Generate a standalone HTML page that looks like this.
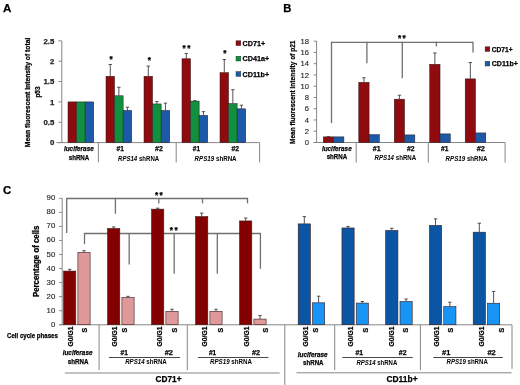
<!DOCTYPE html>
<html><head><meta charset="utf-8"><style>
html,body{margin:0;padding:0;background:#fff;}
svg{display:block;filter:blur(0.4px);font-family:"Liberation Sans",sans-serif;}
</style></head><body>
<svg width="520" height="385" viewBox="0 0 520 385">
<rect width="520" height="385" fill="#fff"/>
<text x="2.9" y="11.65" font-size="11.6" font-weight="bold" stroke="#000" stroke-width="0.25">A</text>
<line x1="61.8" y1="40.85" x2="61.8" y2="142.6" stroke="#868686" stroke-width="1"/>
<line x1="58.4" y1="142.6" x2="61.8" y2="142.6" stroke="#868686" stroke-width="1"/>
<text x="54.3" y="145.4" font-size="7.8" font-weight="bold" text-anchor="end" fill="#1e1e1e" stroke="#1e1e1e" stroke-width="0.25">0</text>
<line x1="58.4" y1="122.25" x2="61.8" y2="122.25" stroke="#868686" stroke-width="1"/>
<text x="54.3" y="125.05" font-size="7.8" font-weight="bold" text-anchor="end" fill="#1e1e1e" stroke="#1e1e1e" stroke-width="0.25">0.5</text>
<line x1="58.4" y1="101.9" x2="61.8" y2="101.9" stroke="#868686" stroke-width="1"/>
<text x="54.3" y="104.7" font-size="7.8" font-weight="bold" text-anchor="end" fill="#1e1e1e" stroke="#1e1e1e" stroke-width="0.25">1</text>
<line x1="58.4" y1="81.55" x2="61.8" y2="81.55" stroke="#868686" stroke-width="1"/>
<text x="54.3" y="84.35" font-size="7.8" font-weight="bold" text-anchor="end" fill="#1e1e1e" stroke="#1e1e1e" stroke-width="0.25">1.5</text>
<line x1="58.4" y1="61.2" x2="61.8" y2="61.2" stroke="#868686" stroke-width="1"/>
<text x="54.3" y="64" font-size="7.8" font-weight="bold" text-anchor="end" fill="#1e1e1e" stroke="#1e1e1e" stroke-width="0.25">2</text>
<line x1="58.4" y1="40.85" x2="61.8" y2="40.85" stroke="#868686" stroke-width="1"/>
<text x="54.3" y="43.65" font-size="7.8" font-weight="bold" text-anchor="end" fill="#1e1e1e" stroke="#1e1e1e" stroke-width="0.25">2.5</text>
<line x1="56.5" y1="142.6" x2="259.6" y2="142.6" stroke="#868686" stroke-width="1"/>
<line x1="98.4" y1="142.6" x2="98.4" y2="162.4" stroke="#868686" stroke-width="1"/>
<line x1="176.2" y1="142.6" x2="176.2" y2="162.4" stroke="#868686" stroke-width="1"/>
<line x1="259.6" y1="142.6" x2="259.6" y2="162.4" stroke="#868686" stroke-width="1"/>
<rect x="68" y="101.9" width="8.57" height="40.7" fill="#8f0b10" stroke="#2a1a1a" stroke-width="0.5"/>
<rect x="76.57" y="101.9" width="8.57" height="40.7" fill="#11913f" stroke="#2a1a1a" stroke-width="0.5"/>
<rect x="85.14" y="101.9" width="8.57" height="40.7" fill="#1c5aa7" stroke="#2a1a1a" stroke-width="0.5"/>
<rect x="106" y="76.26" width="8.57" height="66.34" fill="#8f0b10" stroke="#2a1a1a" stroke-width="0.5"/>
<rect x="114.57" y="95.79" width="8.57" height="46.81" fill="#11913f" stroke="#2a1a1a" stroke-width="0.5"/>
<rect x="123.14" y="110.45" width="8.57" height="32.15" fill="#1c5aa7" stroke="#2a1a1a" stroke-width="0.5"/>
<line x1="110.28" y1="76.26" x2="110.28" y2="64.46" stroke="#404040" stroke-width="0.9"/>
<line x1="108.58" y1="64.46" x2="111.98" y2="64.46" stroke="#404040" stroke-width="0.9"/>
<line x1="118.85" y1="95.79" x2="118.85" y2="87.25" stroke="#404040" stroke-width="0.9"/>
<line x1="117.15" y1="87.25" x2="120.55" y2="87.25" stroke="#404040" stroke-width="0.9"/>
<line x1="127.42" y1="110.45" x2="127.42" y2="107.19" stroke="#404040" stroke-width="0.9"/>
<line x1="125.72" y1="107.19" x2="129.12" y2="107.19" stroke="#404040" stroke-width="0.9"/>
<rect x="144" y="76.26" width="8.57" height="66.34" fill="#8f0b10" stroke="#2a1a1a" stroke-width="0.5"/>
<rect x="152.57" y="103.94" width="8.57" height="38.66" fill="#11913f" stroke="#2a1a1a" stroke-width="0.5"/>
<rect x="161.14" y="110.45" width="8.57" height="32.15" fill="#1c5aa7" stroke="#2a1a1a" stroke-width="0.5"/>
<line x1="148.28" y1="76.26" x2="148.28" y2="66.08" stroke="#404040" stroke-width="0.9"/>
<line x1="146.59" y1="66.08" x2="149.98" y2="66.08" stroke="#404040" stroke-width="0.9"/>
<line x1="156.85" y1="103.94" x2="156.85" y2="101.49" stroke="#404040" stroke-width="0.9"/>
<line x1="155.16" y1="101.49" x2="158.55" y2="101.49" stroke="#404040" stroke-width="0.9"/>
<line x1="165.42" y1="110.45" x2="165.42" y2="103.12" stroke="#404040" stroke-width="0.9"/>
<line x1="163.72" y1="103.12" x2="167.12" y2="103.12" stroke="#404040" stroke-width="0.9"/>
<rect x="182" y="58.76" width="8.57" height="83.84" fill="#8f0b10" stroke="#2a1a1a" stroke-width="0.5"/>
<rect x="190.57" y="101.09" width="8.57" height="41.51" fill="#11913f" stroke="#2a1a1a" stroke-width="0.5"/>
<rect x="199.14" y="115.33" width="8.57" height="27.27" fill="#1c5aa7" stroke="#2a1a1a" stroke-width="0.5"/>
<line x1="186.28" y1="58.76" x2="186.28" y2="53.47" stroke="#404040" stroke-width="0.9"/>
<line x1="184.59" y1="53.47" x2="187.98" y2="53.47" stroke="#404040" stroke-width="0.9"/>
<line x1="194.85" y1="101.09" x2="194.85" y2="100.68" stroke="#404040" stroke-width="0.9"/>
<line x1="193.16" y1="100.68" x2="196.55" y2="100.68" stroke="#404040" stroke-width="0.9"/>
<line x1="203.42" y1="115.33" x2="203.42" y2="111.67" stroke="#404040" stroke-width="0.9"/>
<line x1="201.72" y1="111.67" x2="205.12" y2="111.67" stroke="#404040" stroke-width="0.9"/>
<rect x="220" y="72.6" width="8.57" height="70" fill="#8f0b10" stroke="#2a1a1a" stroke-width="0.5"/>
<rect x="228.57" y="103.53" width="8.57" height="39.07" fill="#11913f" stroke="#2a1a1a" stroke-width="0.5"/>
<rect x="237.14" y="108.82" width="8.57" height="33.78" fill="#1c5aa7" stroke="#2a1a1a" stroke-width="0.5"/>
<line x1="224.28" y1="72.6" x2="224.28" y2="59.57" stroke="#404040" stroke-width="0.9"/>
<line x1="222.59" y1="59.57" x2="225.98" y2="59.57" stroke="#404040" stroke-width="0.9"/>
<line x1="232.85" y1="103.53" x2="232.85" y2="89.69" stroke="#404040" stroke-width="0.9"/>
<line x1="231.16" y1="89.69" x2="234.55" y2="89.69" stroke="#404040" stroke-width="0.9"/>
<line x1="241.42" y1="108.82" x2="241.42" y2="105.16" stroke="#404040" stroke-width="0.9"/>
<line x1="239.72" y1="105.16" x2="243.12" y2="105.16" stroke="#404040" stroke-width="0.9"/>
<text x="111" y="61.5" font-size="8.2" font-weight="bold" text-anchor="middle" stroke="#000" stroke-width="0.25">*</text>
<text x="149.3" y="63" font-size="8.2" font-weight="bold" text-anchor="middle" stroke="#000" stroke-width="0.25">*</text>
<text x="184.2" y="51.2" font-size="8.2" font-weight="bold" text-anchor="middle" stroke="#000" stroke-width="0.25">*</text>
<text x="188.8" y="51.2" font-size="8.2" font-weight="bold" text-anchor="middle" stroke="#000" stroke-width="0.25">*</text>
<text x="224.9" y="55.5" font-size="8.2" font-weight="bold" text-anchor="middle" stroke="#000" stroke-width="0.25">*</text>
<rect x="236" y="40.8" width="4.8" height="4.8" fill="#8f0b10" stroke="#222" stroke-width="0.4"/>
<text x="242.6" y="46" font-size="7.6" font-weight="bold" textLength="22.5" lengthAdjust="spacingAndGlyphs" stroke="#000" stroke-width="0.25">CD71+</text>
<rect x="236" y="56.2" width="4.8" height="4.8" fill="#11913f" stroke="#222" stroke-width="0.4"/>
<text x="242.6" y="61.4" font-size="7.6" font-weight="bold" textLength="26.7" lengthAdjust="spacingAndGlyphs" stroke="#000" stroke-width="0.25">CD41a+</text>
<rect x="236" y="71.6" width="4.8" height="4.8" fill="#1c5aa7" stroke="#222" stroke-width="0.4"/>
<text x="242.6" y="76.8" font-size="7.6" font-weight="bold" textLength="26.5" lengthAdjust="spacingAndGlyphs" stroke="#000" stroke-width="0.25">CD11b+</text>
<text x="63.9" y="150.6" font-size="7.4" font-weight="bold" font-style="italic" textLength="29.9" lengthAdjust="spacingAndGlyphs" stroke="#000" stroke-width="0.25">luciferase</text>
<text x="68.8" y="159.8" font-size="7.4" font-weight="bold" textLength="20.4" lengthAdjust="spacingAndGlyphs" stroke="#000" stroke-width="0.25">shRNA</text>
<text x="116.5" y="151" font-size="7.4" font-weight="bold" textLength="7.4" lengthAdjust="spacingAndGlyphs" stroke="#000" stroke-width="0.25">#1</text>
<text x="155" y="151" font-size="7.4" font-weight="bold" textLength="7.8" lengthAdjust="spacingAndGlyphs" stroke="#000" stroke-width="0.25">#2</text>
<text x="118" y="160.8" font-size="7.4" font-weight="bold" textLength="41.2" lengthAdjust="spacingAndGlyphs"><tspan font-style="italic">RPS14</tspan> shRNA</text>
<text x="192.8" y="151" font-size="7.4" font-weight="bold" textLength="7.2" lengthAdjust="spacingAndGlyphs" stroke="#000" stroke-width="0.25">#1</text>
<text x="231.5" y="151" font-size="7.4" font-weight="bold" textLength="7.7" lengthAdjust="spacingAndGlyphs" stroke="#000" stroke-width="0.25">#2</text>
<text x="194.6" y="160.8" font-size="7.4" font-weight="bold" textLength="42" lengthAdjust="spacingAndGlyphs"><tspan font-style="italic">RPS19</tspan> shRNA</text>
<text x="30.5" y="92.45" font-size="7.6" font-weight="bold" text-anchor="middle" textLength="109.5" lengthAdjust="spacingAndGlyphs" transform="rotate(-90 30.5 92.45)" stroke="#000" stroke-width="0.25">Mean fluorescent intensity of total</text>
<text x="39.5" y="92" font-size="6.3" font-weight="bold" text-anchor="middle" textLength="11.2" lengthAdjust="spacingAndGlyphs" transform="rotate(-90 39.5 92)" stroke="#000" stroke-width="0.25">p53</text>
<text x="283.2" y="12.3" font-size="11.2" font-weight="bold" stroke="#000" stroke-width="0.25">B</text>
<line x1="316.6" y1="41.16" x2="316.6" y2="142.5" stroke="#868686" stroke-width="1"/>
<line x1="313.6" y1="142.5" x2="316.6" y2="142.5" stroke="#868686" stroke-width="1"/>
<text x="309" y="145.2" font-size="7.6" font-weight="normal" text-anchor="end" fill="#2a2a2a" stroke="#2a2a2a" stroke-width="0.15">0</text>
<line x1="313.6" y1="131.24" x2="316.6" y2="131.24" stroke="#868686" stroke-width="1"/>
<text x="309" y="133.94" font-size="7.6" font-weight="normal" text-anchor="end" fill="#2a2a2a" stroke="#2a2a2a" stroke-width="0.15">2</text>
<line x1="313.6" y1="119.98" x2="316.6" y2="119.98" stroke="#868686" stroke-width="1"/>
<text x="309" y="122.68" font-size="7.6" font-weight="normal" text-anchor="end" fill="#2a2a2a" stroke="#2a2a2a" stroke-width="0.15">4</text>
<line x1="313.6" y1="108.72" x2="316.6" y2="108.72" stroke="#868686" stroke-width="1"/>
<text x="309" y="111.42" font-size="7.6" font-weight="normal" text-anchor="end" fill="#2a2a2a" stroke="#2a2a2a" stroke-width="0.15">6</text>
<line x1="313.6" y1="97.46" x2="316.6" y2="97.46" stroke="#868686" stroke-width="1"/>
<text x="309" y="100.16" font-size="7.6" font-weight="normal" text-anchor="end" fill="#2a2a2a" stroke="#2a2a2a" stroke-width="0.15">8</text>
<line x1="313.6" y1="86.2" x2="316.6" y2="86.2" stroke="#868686" stroke-width="1"/>
<text x="309" y="88.9" font-size="7.6" font-weight="normal" text-anchor="end" fill="#2a2a2a" stroke="#2a2a2a" stroke-width="0.15">10</text>
<line x1="313.6" y1="74.94" x2="316.6" y2="74.94" stroke="#868686" stroke-width="1"/>
<text x="309" y="77.64" font-size="7.6" font-weight="normal" text-anchor="end" fill="#2a2a2a" stroke="#2a2a2a" stroke-width="0.15">12</text>
<line x1="313.6" y1="63.68" x2="316.6" y2="63.68" stroke="#868686" stroke-width="1"/>
<text x="309" y="66.38" font-size="7.6" font-weight="normal" text-anchor="end" fill="#2a2a2a" stroke="#2a2a2a" stroke-width="0.15">14</text>
<line x1="313.6" y1="52.42" x2="316.6" y2="52.42" stroke="#868686" stroke-width="1"/>
<text x="309" y="55.12" font-size="7.6" font-weight="normal" text-anchor="end" fill="#2a2a2a" stroke="#2a2a2a" stroke-width="0.15">16</text>
<line x1="313.6" y1="41.16" x2="316.6" y2="41.16" stroke="#868686" stroke-width="1"/>
<text x="309" y="43.86" font-size="7.6" font-weight="normal" text-anchor="end" fill="#2a2a2a" stroke="#2a2a2a" stroke-width="0.15">18</text>
<line x1="313.6" y1="142.5" x2="505.1" y2="142.5" stroke="#868686" stroke-width="1"/>
<line x1="356.2" y1="142.5" x2="356.2" y2="162.6" stroke="#868686" stroke-width="1"/>
<line x1="428.3" y1="142.5" x2="428.3" y2="162.6" stroke="#868686" stroke-width="1"/>
<line x1="505.1" y1="142.5" x2="505.1" y2="162.6" stroke="#868686" stroke-width="1"/>
<line x1="331.5" y1="42.3" x2="473" y2="42.3" stroke="#707070" stroke-width="1.3"/>
<line x1="331.5" y1="41.7" x2="331.5" y2="123.2" stroke="#707070" stroke-width="1.3"/>
<line x1="366.9" y1="41.7" x2="366.9" y2="63.2" stroke="#707070" stroke-width="1.3"/>
<line x1="402.3" y1="41.7" x2="402.3" y2="78.2" stroke="#707070" stroke-width="1.3"/>
<line x1="436.4" y1="41.7" x2="436.4" y2="46.4" stroke="#707070" stroke-width="1.3"/>
<line x1="473" y1="41.7" x2="473" y2="52.5" stroke="#707070" stroke-width="1.3"/>
<rect x="323.3" y="136.87" width="10.3" height="5.63" fill="#8f0b10" stroke="#2a1a1a" stroke-width="0.5"/>
<rect x="333.6" y="136.87" width="10.3" height="5.63" fill="#1c5aa7" stroke="#2a1a1a" stroke-width="0.5"/>
<line x1="328.45" y1="136.87" x2="328.45" y2="136.59" stroke="#404040" stroke-width="0.9"/>
<line x1="326.75" y1="136.59" x2="330.15" y2="136.59" stroke="#404040" stroke-width="0.9"/>
<rect x="358.78" y="82.26" width="10.3" height="60.24" fill="#8f0b10" stroke="#2a1a1a" stroke-width="0.5"/>
<rect x="369.08" y="134.62" width="10.3" height="7.88" fill="#1c5aa7" stroke="#2a1a1a" stroke-width="0.5"/>
<line x1="363.93" y1="82.26" x2="363.93" y2="77.75" stroke="#404040" stroke-width="0.9"/>
<line x1="362.23" y1="77.75" x2="365.62" y2="77.75" stroke="#404040" stroke-width="0.9"/>
<rect x="394.25" y="99.15" width="10.3" height="43.35" fill="#8f0b10" stroke="#2a1a1a" stroke-width="0.5"/>
<rect x="404.55" y="134.9" width="10.3" height="7.6" fill="#1c5aa7" stroke="#2a1a1a" stroke-width="0.5"/>
<line x1="399.4" y1="99.15" x2="399.4" y2="95.21" stroke="#404040" stroke-width="0.9"/>
<line x1="397.7" y1="95.21" x2="401.1" y2="95.21" stroke="#404040" stroke-width="0.9"/>
<rect x="429.73" y="64.24" width="10.3" height="78.26" fill="#8f0b10" stroke="#2a1a1a" stroke-width="0.5"/>
<rect x="440.03" y="133.89" width="10.3" height="8.61" fill="#1c5aa7" stroke="#2a1a1a" stroke-width="0.5"/>
<line x1="434.88" y1="64.24" x2="434.88" y2="52.98" stroke="#404040" stroke-width="0.9"/>
<line x1="433.18" y1="52.98" x2="436.57" y2="52.98" stroke="#404040" stroke-width="0.9"/>
<rect x="465.2" y="78.88" width="10.3" height="63.62" fill="#8f0b10" stroke="#2a1a1a" stroke-width="0.5"/>
<rect x="475.5" y="132.93" width="10.3" height="9.57" fill="#1c5aa7" stroke="#2a1a1a" stroke-width="0.5"/>
<line x1="470.35" y1="78.88" x2="470.35" y2="62.55" stroke="#404040" stroke-width="0.9"/>
<line x1="468.65" y1="62.55" x2="472.05" y2="62.55" stroke="#404040" stroke-width="0.9"/>
<text x="399.6" y="40.5" font-size="8.2" font-weight="bold" text-anchor="middle" stroke="#000" stroke-width="0.25">*</text>
<text x="404.2" y="40.5" font-size="8.2" font-weight="bold" text-anchor="middle" stroke="#000" stroke-width="0.25">*</text>
<rect x="485.1" y="46.8" width="4.7" height="4.7" fill="#8f0b10" stroke="#222" stroke-width="0.4"/>
<text x="491.8" y="51.8" font-size="7.2" font-weight="bold" textLength="20.8" lengthAdjust="spacingAndGlyphs" stroke="#000" stroke-width="0.25">CD71+</text>
<rect x="485.1" y="61.3" width="4.7" height="4.7" fill="#1c5aa7" stroke="#222" stroke-width="0.4"/>
<text x="491.8" y="66.3" font-size="7.2" font-weight="bold" textLength="26" lengthAdjust="spacingAndGlyphs" stroke="#000" stroke-width="0.25">CD11b+</text>
<text x="321.9" y="150.8" font-size="7.4" font-weight="bold" font-style="italic" textLength="29.8" lengthAdjust="spacingAndGlyphs" stroke="#000" stroke-width="0.25">luciferase</text>
<text x="326.7" y="159.4" font-size="7.4" font-weight="bold" textLength="20.4" lengthAdjust="spacingAndGlyphs" stroke="#000" stroke-width="0.25">shRNA</text>
<text x="372.8" y="151.2" font-size="7.4" font-weight="bold" textLength="7.8" lengthAdjust="spacingAndGlyphs" stroke="#000" stroke-width="0.25">#1</text>
<text x="407" y="151.2" font-size="7.4" font-weight="bold" textLength="7.6" lengthAdjust="spacingAndGlyphs" stroke="#000" stroke-width="0.25">#2</text>
<text x="374.6" y="160.4" font-size="7.4" font-weight="bold" textLength="41.6" lengthAdjust="spacingAndGlyphs"><tspan font-style="italic">RPS14</tspan> shRNA</text>
<text x="441.1" y="151.2" font-size="7.4" font-weight="bold" textLength="7.4" lengthAdjust="spacingAndGlyphs" stroke="#000" stroke-width="0.25">#1</text>
<text x="476.7" y="151.2" font-size="7.4" font-weight="bold" textLength="8.2" lengthAdjust="spacingAndGlyphs" stroke="#000" stroke-width="0.25">#2</text>
<text x="445.6" y="160.5" font-size="7.4" font-weight="bold" textLength="41.9" lengthAdjust="spacingAndGlyphs"><tspan font-style="italic">RPS19</tspan> shRNA</text>
<text x="295.1" y="92.25" font-size="7.6" font-weight="bold" text-anchor="middle" textLength="103.5" lengthAdjust="spacingAndGlyphs" transform="rotate(-90 295.1 92.25)" stroke="#000" stroke-width="0.25">Mean fluorescent intensity of p21</text>
<text x="3" y="193.65" font-size="11.4" font-weight="bold" stroke="#000" stroke-width="0.25">C</text>
<line x1="62.2" y1="198.34" x2="62.2" y2="324.7" stroke="#868686" stroke-width="1"/>
<line x1="59.2" y1="324.7" x2="62.2" y2="324.7" stroke="#868686" stroke-width="1"/>
<text x="55.3" y="326.7" font-size="7.8" font-weight="normal" text-anchor="end" fill="#2a2a2a" stroke="#2a2a2a" stroke-width="0.15">0</text>
<line x1="59.2" y1="310.66" x2="62.2" y2="310.66" stroke="#868686" stroke-width="1"/>
<text x="55.3" y="312.66" font-size="7.8" font-weight="normal" text-anchor="end" fill="#2a2a2a" stroke="#2a2a2a" stroke-width="0.15">10</text>
<line x1="59.2" y1="296.62" x2="62.2" y2="296.62" stroke="#868686" stroke-width="1"/>
<text x="55.3" y="298.62" font-size="7.8" font-weight="normal" text-anchor="end" fill="#2a2a2a" stroke="#2a2a2a" stroke-width="0.15">20</text>
<line x1="59.2" y1="282.58" x2="62.2" y2="282.58" stroke="#868686" stroke-width="1"/>
<text x="55.3" y="284.58" font-size="7.8" font-weight="normal" text-anchor="end" fill="#2a2a2a" stroke="#2a2a2a" stroke-width="0.15">30</text>
<line x1="59.2" y1="268.54" x2="62.2" y2="268.54" stroke="#868686" stroke-width="1"/>
<text x="55.3" y="270.54" font-size="7.8" font-weight="normal" text-anchor="end" fill="#2a2a2a" stroke="#2a2a2a" stroke-width="0.15">40</text>
<line x1="59.2" y1="254.5" x2="62.2" y2="254.5" stroke="#868686" stroke-width="1"/>
<text x="55.3" y="256.5" font-size="7.8" font-weight="normal" text-anchor="end" fill="#2a2a2a" stroke="#2a2a2a" stroke-width="0.15">50</text>
<line x1="59.2" y1="240.46" x2="62.2" y2="240.46" stroke="#868686" stroke-width="1"/>
<text x="55.3" y="242.46" font-size="7.8" font-weight="normal" text-anchor="end" fill="#2a2a2a" stroke="#2a2a2a" stroke-width="0.15">60</text>
<line x1="59.2" y1="226.42" x2="62.2" y2="226.42" stroke="#868686" stroke-width="1"/>
<text x="55.3" y="228.42" font-size="7.8" font-weight="normal" text-anchor="end" fill="#2a2a2a" stroke="#2a2a2a" stroke-width="0.15">70</text>
<line x1="59.2" y1="212.38" x2="62.2" y2="212.38" stroke="#868686" stroke-width="1"/>
<text x="55.3" y="214.38" font-size="7.8" font-weight="normal" text-anchor="end" fill="#2a2a2a" stroke="#2a2a2a" stroke-width="0.15">80</text>
<line x1="59.2" y1="198.34" x2="62.2" y2="198.34" stroke="#868686" stroke-width="1"/>
<text x="55.3" y="200.34" font-size="7.8" font-weight="normal" text-anchor="end" fill="#2a2a2a" stroke="#2a2a2a" stroke-width="0.15">90</text>
<line x1="59.2" y1="324.8" x2="512" y2="324.8" stroke="#868686" stroke-width="1"/>
<line x1="284.8" y1="324.8" x2="284.8" y2="385" stroke="#868686" stroke-width="1"/>
<line x1="99.1" y1="324.8" x2="99.1" y2="370.2" stroke="#868686" stroke-width="1"/>
<line x1="187.3" y1="324.8" x2="187.3" y2="370.2" stroke="#868686" stroke-width="1"/>
<line x1="334.7" y1="324.8" x2="334.7" y2="370.2" stroke="#868686" stroke-width="1"/>
<line x1="420.4" y1="324.8" x2="420.4" y2="370.2" stroke="#868686" stroke-width="1"/>
<line x1="512" y1="324.8" x2="512" y2="368.8" stroke="#868686" stroke-width="1"/>
<line x1="64.9" y1="373" x2="279.7" y2="373" stroke="#868686" stroke-width="1"/>
<line x1="296.5" y1="372.8" x2="511.6" y2="372.8" stroke="#868686" stroke-width="1"/>
<line x1="109" y1="357.5" x2="180.1" y2="357.5" stroke="#333" stroke-width="0.9"/>
<line x1="198" y1="357.5" x2="268.4" y2="357.5" stroke="#333" stroke-width="0.9"/>
<line x1="342.3" y1="357.5" x2="412.7" y2="357.5" stroke="#333" stroke-width="0.9"/>
<line x1="433.3" y1="357.5" x2="502.8" y2="357.5" stroke="#333" stroke-width="0.9"/>
<line x1="66.7" y1="198.5" x2="247.5" y2="198.5" stroke="#707070" stroke-width="1.3"/>
<line x1="66.7" y1="197.9" x2="66.7" y2="233" stroke="#707070" stroke-width="1.3"/>
<line x1="115.4" y1="197.9" x2="115.4" y2="213.8" stroke="#707070" stroke-width="1.3"/>
<line x1="158.8" y1="197.9" x2="158.8" y2="203.5" stroke="#707070" stroke-width="1.3"/>
<line x1="202.5" y1="197.9" x2="202.5" y2="203.3" stroke="#707070" stroke-width="1.3"/>
<line x1="247.5" y1="197.9" x2="247.5" y2="203.3" stroke="#707070" stroke-width="1.3"/>
<line x1="84.5" y1="233.5" x2="260.4" y2="233.5" stroke="#707070" stroke-width="1.3"/>
<line x1="84.5" y1="232.9" x2="84.5" y2="244.2" stroke="#707070" stroke-width="1.3"/>
<line x1="129.2" y1="232.9" x2="129.2" y2="264.5" stroke="#707070" stroke-width="1.3"/>
<line x1="174.2" y1="232.9" x2="174.2" y2="273.7" stroke="#707070" stroke-width="1.3"/>
<line x1="217.3" y1="232.9" x2="217.3" y2="273.7" stroke="#707070" stroke-width="1.3"/>
<line x1="260.4" y1="232.9" x2="260.4" y2="268.8" stroke="#707070" stroke-width="1.3"/>
<text x="156.5" y="198.2" font-size="8.2" font-weight="bold" text-anchor="middle" stroke="#000" stroke-width="0.25">*</text>
<text x="161.1" y="198.2" font-size="8.2" font-weight="bold" text-anchor="middle" stroke="#000" stroke-width="0.25">*</text>
<text x="171.4" y="233.4" font-size="8.2" font-weight="bold" text-anchor="middle" stroke="#000" stroke-width="0.25">*</text>
<text x="176" y="233.4" font-size="8.2" font-weight="bold" text-anchor="middle" stroke="#000" stroke-width="0.25">*</text>
<rect x="63.6" y="271.07" width="12.2" height="53.63" fill="#820000" stroke="#3a1a1a" stroke-width="0.6"/>
<rect x="77.9" y="252.39" width="12.2" height="72.31" fill="#e0999b" stroke="#3a1a1a" stroke-width="0.6"/>
<line x1="69.7" y1="271.07" x2="69.7" y2="269.38" stroke="#404040" stroke-width="0.9"/>
<line x1="68" y1="269.38" x2="71.4" y2="269.38" stroke="#404040" stroke-width="0.9"/>
<line x1="84" y1="252.39" x2="84" y2="250.71" stroke="#404040" stroke-width="0.9"/>
<line x1="82.3" y1="250.71" x2="85.7" y2="250.71" stroke="#404040" stroke-width="0.9"/>
<text x="73.15" y="326.6" font-size="7.0" font-weight="bold" text-anchor="end" textLength="19.8" lengthAdjust="spacingAndGlyphs" transform="rotate(-90 73.15 326.6)" stroke="#000" stroke-width="0.25">G0/G1</text>
<text x="87.15" y="327.8" font-size="7.0" font-weight="bold" text-anchor="end" transform="rotate(-90 87.15 327.8)" stroke="#000" stroke-width="0.25">S</text>
<rect x="298.2" y="223.89" width="12.2" height="100.81" fill="#0a56a4" stroke="#3a1a1a" stroke-width="0.6"/>
<rect x="312.5" y="302.8" width="12.2" height="21.9" fill="#1894f5" stroke="#3a1a1a" stroke-width="0.6"/>
<line x1="304.3" y1="223.89" x2="304.3" y2="216.59" stroke="#404040" stroke-width="0.9"/>
<line x1="302.6" y1="216.59" x2="306" y2="216.59" stroke="#404040" stroke-width="0.9"/>
<line x1="318.6" y1="302.8" x2="318.6" y2="296.2" stroke="#404040" stroke-width="0.9"/>
<line x1="316.9" y1="296.2" x2="320.3" y2="296.2" stroke="#404040" stroke-width="0.9"/>
<text x="308.1" y="326.6" font-size="7.0" font-weight="bold" text-anchor="end" textLength="19.8" lengthAdjust="spacingAndGlyphs" transform="rotate(-90 308.1 326.6)" stroke="#000" stroke-width="0.25">G0/G1</text>
<text x="317.9" y="327.8" font-size="7.0" font-weight="bold" text-anchor="end" transform="rotate(-90 317.9 327.8)" stroke="#000" stroke-width="0.25">S</text>
<rect x="107.6" y="228.53" width="12.2" height="96.17" fill="#820000" stroke="#3a1a1a" stroke-width="0.6"/>
<rect x="121.9" y="297.46" width="12.2" height="27.24" fill="#e0999b" stroke="#3a1a1a" stroke-width="0.6"/>
<line x1="113.7" y1="228.53" x2="113.7" y2="226.98" stroke="#404040" stroke-width="0.9"/>
<line x1="112" y1="226.98" x2="115.4" y2="226.98" stroke="#404040" stroke-width="0.9"/>
<line x1="128" y1="297.46" x2="128" y2="296.34" stroke="#404040" stroke-width="0.9"/>
<line x1="126.3" y1="296.34" x2="129.7" y2="296.34" stroke="#404040" stroke-width="0.9"/>
<text x="117.5" y="326.6" font-size="7.0" font-weight="bold" text-anchor="end" textLength="19.8" lengthAdjust="spacingAndGlyphs" transform="rotate(-90 117.5 326.6)" stroke="#000" stroke-width="0.25">G0/G1</text>
<text x="127.1" y="327.8" font-size="7.0" font-weight="bold" text-anchor="end" transform="rotate(-90 127.1 327.8)" stroke="#000" stroke-width="0.25">S</text>
<rect x="341.95" y="227.96" width="12.2" height="96.74" fill="#0a56a4" stroke="#3a1a1a" stroke-width="0.6"/>
<rect x="356.25" y="303.08" width="12.2" height="21.62" fill="#1894f5" stroke="#3a1a1a" stroke-width="0.6"/>
<line x1="348.05" y1="227.96" x2="348.05" y2="226.42" stroke="#404040" stroke-width="0.9"/>
<line x1="346.35" y1="226.42" x2="349.75" y2="226.42" stroke="#404040" stroke-width="0.9"/>
<line x1="362.35" y1="303.08" x2="362.35" y2="301.53" stroke="#404040" stroke-width="0.9"/>
<line x1="360.65" y1="301.53" x2="364.05" y2="301.53" stroke="#404040" stroke-width="0.9"/>
<text x="353.1" y="326.6" font-size="7.0" font-weight="bold" text-anchor="end" textLength="19.8" lengthAdjust="spacingAndGlyphs" transform="rotate(-90 353.1 326.6)" stroke="#000" stroke-width="0.25">G0/G1</text>
<text x="368" y="327.8" font-size="7.0" font-weight="bold" text-anchor="end" transform="rotate(-90 368 327.8)" stroke="#000" stroke-width="0.25">S</text>
<rect x="151.6" y="209.15" width="12.2" height="115.55" fill="#820000" stroke="#3a1a1a" stroke-width="0.6"/>
<rect x="165.9" y="311.36" width="12.2" height="13.34" fill="#e0999b" stroke="#3a1a1a" stroke-width="0.6"/>
<line x1="157.7" y1="209.15" x2="157.7" y2="208.17" stroke="#404040" stroke-width="0.9"/>
<line x1="156" y1="208.17" x2="159.4" y2="208.17" stroke="#404040" stroke-width="0.9"/>
<line x1="172" y1="311.36" x2="172" y2="309.26" stroke="#404040" stroke-width="0.9"/>
<line x1="170.3" y1="309.26" x2="173.7" y2="309.26" stroke="#404040" stroke-width="0.9"/>
<text x="162.15" y="326.6" font-size="7.0" font-weight="bold" text-anchor="end" textLength="19.8" lengthAdjust="spacingAndGlyphs" transform="rotate(-90 162.15 326.6)" stroke="#000" stroke-width="0.25">G0/G1</text>
<text x="176.9" y="327.8" font-size="7.0" font-weight="bold" text-anchor="end" transform="rotate(-90 176.9 327.8)" stroke="#000" stroke-width="0.25">S</text>
<rect x="385.7" y="230.49" width="12.2" height="94.21" fill="#0a56a4" stroke="#3a1a1a" stroke-width="0.6"/>
<rect x="400" y="301.53" width="12.2" height="23.17" fill="#1894f5" stroke="#3a1a1a" stroke-width="0.6"/>
<line x1="391.8" y1="230.49" x2="391.8" y2="228.25" stroke="#404040" stroke-width="0.9"/>
<line x1="390.1" y1="228.25" x2="393.5" y2="228.25" stroke="#404040" stroke-width="0.9"/>
<line x1="406.1" y1="301.53" x2="406.1" y2="299.01" stroke="#404040" stroke-width="0.9"/>
<line x1="404.4" y1="299.01" x2="407.8" y2="299.01" stroke="#404040" stroke-width="0.9"/>
<text x="393.55" y="326.6" font-size="7.0" font-weight="bold" text-anchor="end" textLength="19.8" lengthAdjust="spacingAndGlyphs" transform="rotate(-90 393.55 326.6)" stroke="#000" stroke-width="0.25">G0/G1</text>
<text x="408.25" y="327.8" font-size="7.0" font-weight="bold" text-anchor="end" transform="rotate(-90 408.25 327.8)" stroke="#000" stroke-width="0.25">S</text>
<rect x="195.6" y="216.59" width="12.2" height="108.11" fill="#820000" stroke="#3a1a1a" stroke-width="0.6"/>
<rect x="209.9" y="311.36" width="12.2" height="13.34" fill="#e0999b" stroke="#3a1a1a" stroke-width="0.6"/>
<line x1="201.7" y1="216.59" x2="201.7" y2="213.08" stroke="#404040" stroke-width="0.9"/>
<line x1="200" y1="213.08" x2="203.4" y2="213.08" stroke="#404040" stroke-width="0.9"/>
<line x1="216" y1="311.36" x2="216" y2="309.26" stroke="#404040" stroke-width="0.9"/>
<line x1="214.3" y1="309.26" x2="217.7" y2="309.26" stroke="#404040" stroke-width="0.9"/>
<text x="207.35" y="326.6" font-size="7.0" font-weight="bold" text-anchor="end" textLength="19.8" lengthAdjust="spacingAndGlyphs" transform="rotate(-90 207.35 326.6)" stroke="#000" stroke-width="0.25">G0/G1</text>
<text x="223.1" y="327.8" font-size="7.0" font-weight="bold" text-anchor="end" transform="rotate(-90 223.1 327.8)" stroke="#000" stroke-width="0.25">S</text>
<rect x="429.45" y="225.44" width="12.2" height="99.26" fill="#0a56a4" stroke="#3a1a1a" stroke-width="0.6"/>
<rect x="443.75" y="306.59" width="12.2" height="18.11" fill="#1894f5" stroke="#3a1a1a" stroke-width="0.6"/>
<line x1="435.55" y1="225.44" x2="435.55" y2="218.84" stroke="#404040" stroke-width="0.9"/>
<line x1="433.85" y1="218.84" x2="437.25" y2="218.84" stroke="#404040" stroke-width="0.9"/>
<line x1="449.85" y1="306.59" x2="449.85" y2="302.24" stroke="#404040" stroke-width="0.9"/>
<line x1="448.15" y1="302.24" x2="451.55" y2="302.24" stroke="#404040" stroke-width="0.9"/>
<text x="438.6" y="326.6" font-size="7.0" font-weight="bold" text-anchor="end" textLength="19.8" lengthAdjust="spacingAndGlyphs" transform="rotate(-90 438.6 326.6)" stroke="#000" stroke-width="0.25">G0/G1</text>
<text x="453.5" y="327.8" font-size="7.0" font-weight="bold" text-anchor="end" transform="rotate(-90 453.5 327.8)" stroke="#000" stroke-width="0.25">S</text>
<rect x="239.6" y="220.94" width="12.2" height="103.76" fill="#820000" stroke="#3a1a1a" stroke-width="0.6"/>
<rect x="253.9" y="319.08" width="12.2" height="5.62" fill="#e0999b" stroke="#3a1a1a" stroke-width="0.6"/>
<line x1="245.7" y1="220.94" x2="245.7" y2="218" stroke="#404040" stroke-width="0.9"/>
<line x1="244" y1="218" x2="247.4" y2="218" stroke="#404040" stroke-width="0.9"/>
<line x1="260" y1="319.08" x2="260" y2="315.57" stroke="#404040" stroke-width="0.9"/>
<line x1="258.3" y1="315.57" x2="261.7" y2="315.57" stroke="#404040" stroke-width="0.9"/>
<text x="249.05" y="326.6" font-size="7.0" font-weight="bold" text-anchor="end" textLength="19.8" lengthAdjust="spacingAndGlyphs" transform="rotate(-90 249.05 326.6)" stroke="#000" stroke-width="0.25">G0/G1</text>
<text x="267.95" y="327.8" font-size="7.0" font-weight="bold" text-anchor="end" transform="rotate(-90 267.95 327.8)" stroke="#000" stroke-width="0.25">S</text>
<rect x="473.2" y="232.18" width="12.2" height="92.52" fill="#0a56a4" stroke="#3a1a1a" stroke-width="0.6"/>
<rect x="487.5" y="303.22" width="12.2" height="21.48" fill="#1894f5" stroke="#3a1a1a" stroke-width="0.6"/>
<line x1="479.3" y1="232.18" x2="479.3" y2="223.19" stroke="#404040" stroke-width="0.9"/>
<line x1="477.6" y1="223.19" x2="481" y2="223.19" stroke="#404040" stroke-width="0.9"/>
<line x1="493.6" y1="303.22" x2="493.6" y2="291.43" stroke="#404040" stroke-width="0.9"/>
<line x1="491.9" y1="291.43" x2="495.3" y2="291.43" stroke="#404040" stroke-width="0.9"/>
<text x="483.7" y="326.6" font-size="7.0" font-weight="bold" text-anchor="end" textLength="19.8" lengthAdjust="spacingAndGlyphs" transform="rotate(-90 483.7 326.6)" stroke="#000" stroke-width="0.25">G0/G1</text>
<text x="503.65" y="327.8" font-size="7.0" font-weight="bold" text-anchor="end" transform="rotate(-90 503.65 327.8)" stroke="#000" stroke-width="0.25">S</text>
<text x="7" y="337.5" font-size="7.4" font-weight="bold" textLength="50.9" lengthAdjust="spacingAndGlyphs" stroke="#000" stroke-width="0.25">Cell cycle phases</text>
<text x="155.6" y="382" font-size="9.2" font-weight="bold" textLength="25.9" lengthAdjust="spacingAndGlyphs" stroke="#000" stroke-width="0.25">CD71+</text>
<text x="386.4" y="381.6" font-size="9.2" font-weight="bold" textLength="31.2" lengthAdjust="spacingAndGlyphs" stroke="#000" stroke-width="0.25">CD11b+</text>
<text x="62.7" y="355.4" font-size="7.2" font-weight="bold" font-style="italic" textLength="29.8" lengthAdjust="spacingAndGlyphs" stroke="#000" stroke-width="0.25">luciferase</text>
<text x="67.8" y="364.4" font-size="7.2" font-weight="bold" textLength="20.7" lengthAdjust="spacingAndGlyphs" stroke="#000" stroke-width="0.25">shRNA</text>
<text x="120.5" y="355.2" font-size="7.2" font-weight="bold" textLength="7.3" lengthAdjust="spacingAndGlyphs" stroke="#000" stroke-width="0.25">#1</text>
<text x="164.7" y="355.2" font-size="7.2" font-weight="bold" textLength="8.2" lengthAdjust="spacingAndGlyphs" stroke="#000" stroke-width="0.25">#2</text>
<text x="125.2" y="364.4" font-size="7.2" font-weight="bold" textLength="41.6" lengthAdjust="spacingAndGlyphs"><tspan font-style="italic">RPS14</tspan> shRNA</text>
<text x="208.9" y="355.2" font-size="7.2" font-weight="bold" textLength="7.2" lengthAdjust="spacingAndGlyphs" stroke="#000" stroke-width="0.25">#1</text>
<text x="252" y="355.2" font-size="7.2" font-weight="bold" textLength="8.1" lengthAdjust="spacingAndGlyphs" stroke="#000" stroke-width="0.25">#2</text>
<text x="210" y="364.4" font-size="7.2" font-weight="bold" textLength="42" lengthAdjust="spacingAndGlyphs"><tspan font-style="italic">RPS19</tspan> shRNA</text>
<text x="297.7" y="356.6" font-size="7.2" font-weight="bold" font-style="italic" textLength="30" lengthAdjust="spacingAndGlyphs" stroke="#000" stroke-width="0.25">luciferase</text>
<text x="303.1" y="365.4" font-size="7.2" font-weight="bold" textLength="20.4" lengthAdjust="spacingAndGlyphs" stroke="#000" stroke-width="0.25">shRNA</text>
<text x="355.4" y="355.3" font-size="7.2" font-weight="bold" textLength="7.6" lengthAdjust="spacingAndGlyphs" stroke="#000" stroke-width="0.25">#1</text>
<text x="398.8" y="355.3" font-size="7.2" font-weight="bold" textLength="7.7" lengthAdjust="spacingAndGlyphs" stroke="#000" stroke-width="0.25">#2</text>
<text x="356.5" y="364.8" font-size="7.2" font-weight="bold" textLength="40.8" lengthAdjust="spacingAndGlyphs"><tspan font-style="italic">RPS14</tspan> shRNA</text>
<text x="442.1" y="355.2" font-size="7.2" font-weight="bold" textLength="8.2" lengthAdjust="spacingAndGlyphs" stroke="#000" stroke-width="0.25">#1</text>
<text x="487.4" y="355.2" font-size="7.2" font-weight="bold" textLength="8.3" lengthAdjust="spacingAndGlyphs" stroke="#000" stroke-width="0.25">#2</text>
<text x="446.5" y="364.4" font-size="7.2" font-weight="bold" textLength="41.3" lengthAdjust="spacingAndGlyphs"><tspan font-style="italic">RPS19</tspan> shRNA</text>
<text x="38.9" y="261.3" font-size="8.3" font-weight="bold" text-anchor="middle" textLength="71.4" lengthAdjust="spacingAndGlyphs" transform="rotate(-90 38.9 261.3)" stroke="#000" stroke-width="0.25">Percentage of cells</text>
</svg>
</body></html>
